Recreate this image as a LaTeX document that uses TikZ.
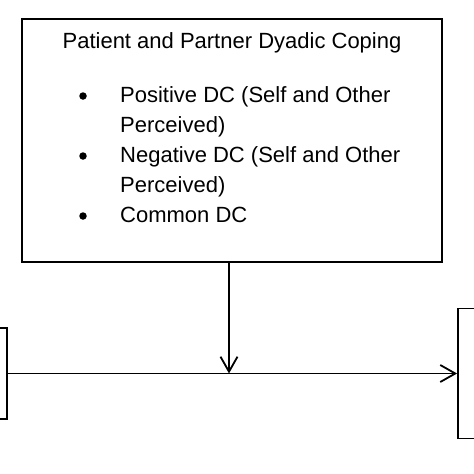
\documentclass[tikz,border=0pt]{standalone}
\usepackage{fontspec}
\setmainfont{Liberation Sans}
\usetikzlibrary{arrows.meta, positioning}

\begin{document}
\begin{tikzpicture}[
		x=1pt, y=-1pt,
		panel/.style = {draw, rectangle, line width=1.8pt, inner sep=0pt},
		label/.style = {font=\fontsize{22}{30}\selectfont, inner sep=0pt},
		bulletdot/.style = {circle, fill, inner sep=0pt, minimum size=7.5pt},
		>={Straight Barb[length=15pt, width=17pt, line width=1.8pt]}
		]
		
		\clip (0,0) rectangle (474,474);
		
		% --- MODERADOR: AFRONTAMIENTO DIÁDICO ---
		\node [panel, minimum width=420pt, minimum height=243pt] (coping) at (232, 140.5) {};
		\node [label, anchor=base] (title) at (232, 48) {Patient and Partner Dyadic Coping};
		
		% --- LISTA DE COMPONENTES ---
		\node [bulletdot] (dot_pos) at (83, 96) {};
		\node [label, anchor=base west] (pos_a) at (120, 102) {Positive DC (Self and Other};
		\node [label, anchor=base west] (pos_b) at (120, 132) {Perceived)};
		\node [bulletdot] (dot_neg) at (83, 156) {};
		\node [label, anchor=base west] (neg_a) at (120, 162) {Negative DC (Self and Other};
		\node [label, anchor=base west] (neg_b) at (120, 192) {Perceived)};
		\node [bulletdot] (dot_com) at (83, 216) {};
		\node [label, anchor=base west] (com) at (120, 222) {Common DC};
		
		% --- BLOQUES LATERALES (recortados) ---
		\node [panel, minimum width=100pt, minimum height=91pt] (predictor) at (-43, 373.5) {};
		\node [panel, minimum width=100pt, minimum height=130pt] (outcome) at (508, 373.5) {};
		
		% --- CONEXIONES ---
		\coordinate (joint) at ([xshift=-3pt]coping.south |- predictor.east);
		\draw [line width=1.8pt, ->] (predictor.east) -- (outcome.west);
		\draw [line width=1.8pt, ->] ([xshift=-3pt]coping.south) -- (joint);
		
	\end{tikzpicture}
\end{document}
